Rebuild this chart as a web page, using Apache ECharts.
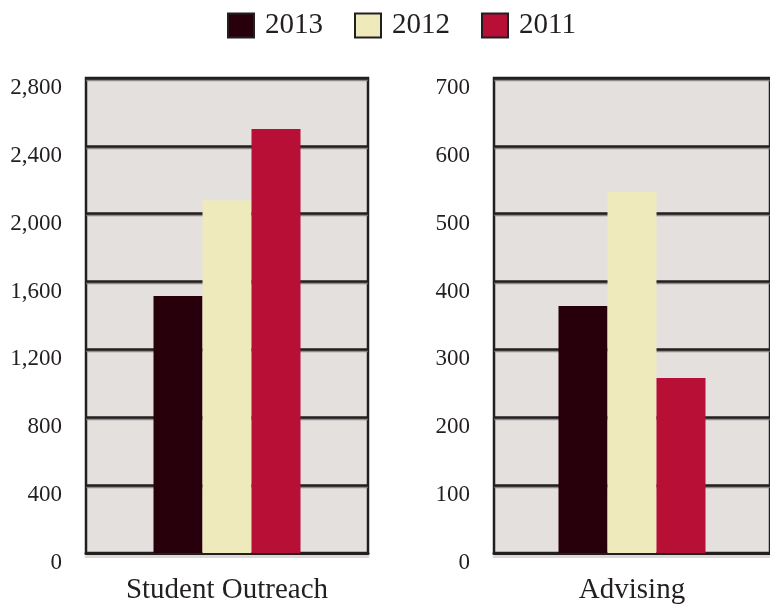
<!DOCTYPE html>
<html>
<head>
<meta charset="utf-8">
<script src="https://cdn.jsdelivr.net/npm/echarts@6/dist/echarts.min.js"></script>
<style>html,body{margin:0;padding:0;background:#fff;}#c{width:770px;height:607px;}</style>
</head>
<body>
<div id="c"></div>
<script>
var seriesNames = ['2013', '2012', '2011'];
var outreachCategory = ['Student Outreach'];
var advisingCategory = ['Advising'];
var outreachValues = [1515, 2080, 2500];
var advisingValues = [364, 532, 258];
var colors = ['#28000c', '#eeeabb', '#b80f36'];

function commas(v) {
  return String(v).replace(/\B(?=(\d{3})+(?!\d))/g, ',');
}

var font = '"Liberation Serif", "DejaVu Serif", serif';
var dark = '#231f20';

var chart = echarts.init(document.getElementById('c'), null, {renderer: 'canvas'});

var series = [];
seriesNames.forEach(function (n, i) {
  series.push({
    name: n, type: 'bar', xAxisIndex: 0, yAxisIndex: 0,
    data: [outreachValues[i]], barWidth: 49, barGap: '0%',
    itemStyle: {color: colors[i]}
  });
});
seriesNames.forEach(function (n, i) {
  series.push({
    name: n, type: 'bar', xAxisIndex: 1, yAxisIndex: 1,
    data: [advisingValues[i]], barWidth: 49, barGap: '0%',
    itemStyle: {color: colors[i]}
  });
});

function yAxis(idx, max, interval, fmt) {
  return {
    type: 'value', gridIndex: idx, min: 0, max: max, interval: interval,
    axisLine: {show: false}, axisTick: {show: false},
    axisLabel: {
      color: dark, fontFamily: font, fontSize: 23, margin: 24,
      verticalAlign: 'top', lineHeight: 20, formatter: fmt
    },
    splitLine: {show: true, lineStyle: {color: dark, width: 2.5, shadowColor: 'rgba(120,118,116,0.8)', shadowOffsetY: 1.5, shadowBlur: 0}}
  };
}

function xAxis(idx, cats) {
  return {
    type: 'category', gridIndex: idx, data: cats,
    axisLine: {show: true, lineStyle: {color: dark, width: 3, shadowColor: '#dcd8d6', shadowOffsetY: 3, shadowBlur: 0}},
    axisTick: {show: false},
    axisLabel: {color: dark, fontFamily: font, fontSize: 29, margin: 23}
  };
}

chart.setOption({
  animation: false,
  legend: {
    top: 6, left: 222,
    data: seriesNames,
    itemWidth: 26, itemHeight: 24, itemGap: 31,
    icon: 'rect',
    itemStyle: {borderColor: dark, borderWidth: 2},
    textStyle: {color: dark, fontFamily: font, fontSize: 29, padding: [0, 0, 0, 6]}
  },
  grid: [
    {left: 86, top: 78, width: 282, height: 475, show: true, backgroundColor: '#e4e0dd', borderColor: dark, borderWidth: 2.5},
    {left: 494, top: 78, width: 282, height: 475, show: true, backgroundColor: '#e4e0dd', borderColor: dark, borderWidth: 2.5}
  ],
  xAxis: [xAxis(0, outreachCategory), xAxis(1, advisingCategory)],
  yAxis: [yAxis(0, 2800, 400, function (v) { return commas(v); }), yAxis(1, 700, 100, function (v) { return String(v); })],
  series: series
});
</script>
</body>
</html>
